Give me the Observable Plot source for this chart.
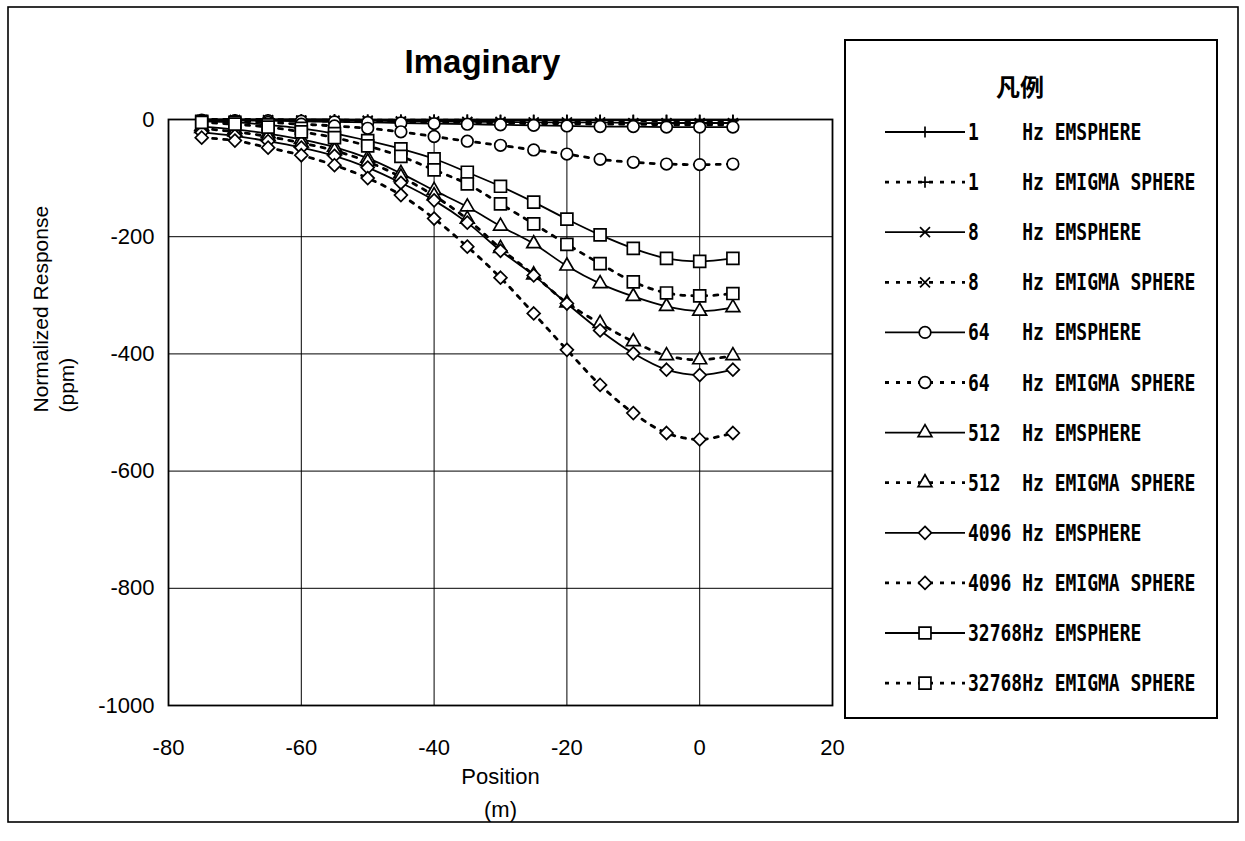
<!DOCTYPE html>
<html><head><meta charset="utf-8">
<script src="https://cdn.jsdelivr.net/npm/d3@7"></script>
<script src="https://cdn.jsdelivr.net/npm/@observablehq/plot@0.6"></script>
<style>
body{margin:0;background:#fff;overflow:hidden;}
#wrap{position:relative;width:1245px;height:841px;}
#wrap svg{position:absolute;left:0;top:0;}
</style></head><body><div id="wrap"></div>
<script>
// ---- data ----
const positions = [-75,-70,-65,-60,-55,-50,-45,-40,-35,-30,-25,-20,-15,-10,-5,0,5];
const xTicks = [-80,-60,-40,-20,0,20];
const yTicks = [-1000,-800,-600,-400,-200,0];
const frequencies = ["1","1","8","8","64","64","512","512","4096","4096","32768","32768"];
const models = ["EMSPHERE","EMIGMA SPHERE","EMSPHERE","EMIGMA SPHERE","EMSPHERE","EMIGMA SPHERE","EMSPHERE","EMIGMA SPHERE","EMSPHERE","EMIGMA SPHERE","EMSPHERE","EMIGMA SPHERE"];
const hz1Emsphere    = [0,0,0,0,0,-1,-1,-1,-1,-1,-1,-1,-1,-1,-1,-1,-1];
const hz1Emigma      = [0,0,0,-1,-1,-1,-1,-1,-1,-2,-2,-2,-2,-2,-2,-2,-2];
const hz8Emsphere    = [-1,-1,-1,-2,-2,-2,-3,-3,-4,-4,-5,-5,-5,-6,-6,-6,-6];
const hz8Emigma      = [-1,-1,-2,-2,-3,-3,-4,-5,-5,-6,-7,-7,-8,-8,-9,-9,-9];
const hz64Emsphere   = [-1,-2,-2,-3,-4,-5,-6,-7,-8,-9,-10,-11,-12,-12,-13,-13,-13];
const hz64Emigma     = [-2,-3,-5,-8,-11,-15,-21,-29,-37,-44,-52,-59,-68,-73,-76,-77,-76];
const hz512Emsphere  = [-12,-17,-24,-34,-47,-66,-92,-121,-149,-182,-212,-250,-280,-302,-319,-327,-321];
const hz512Emigma    = [-15,-21,-29,-40,-53,-72,-98,-130,-170,-220,-265,-313,-348,-379,-403,-410,-403];
const hz4096Emsphere = [-22,-28,-37,-48,-62,-82,-108,-138,-176,-224,-266,-314,-360,-399,-427,-436,-427];
const hz4096Emigma   = [-31,-36,-48,-61,-78,-100,-129,-169,-217,-270,-331,-393,-453,-501,-535,-546,-535];
const hz32768Emsphere= [-3,-5,-9,-15,-24,-36,-50,-67,-90,-114,-141,-170,-197,-220,-237,-242,-237];
const hz32768Emigma  = [-5,-8,-13,-21,-31,-45,-63,-86,-110,-144,-178,-213,-246,-277,-296,-301,-297];
const seriesValues = [hz1Emsphere,hz1Emigma,hz8Emsphere,hz8Emigma,hz64Emsphere,hz64Emigma,hz512Emsphere,hz512Emigma,hz4096Emsphere,hz4096Emigma,hz32768Emsphere,hz32768Emigma];

// ---- styles ----
const symbolNames = {"1":"plus","8":"times","64":"circle","512":"triangle2","4096":"diamond2","32768":"square2"};
const d3Symbols = {"plus":d3.symbolPlus,"times":d3.symbolTimes,"circle":d3.symbolCircle,"triangle2":d3.symbolTriangle2,"diamond2":d3.symbolDiamond2,"square2":d3.symbolSquare2};
const symbolR = {"plus":3.7,"times":4.6,"circle":5.8,"triangle2":6.6,"diamond2":5.8,"square2":7.6};

const series = frequencies.map((f,i)=>({
  freq:f, model:models[i], dashed: models[i] !== "EMSPHERE",
  symbol: symbolNames[f], rows: positions.map((x,j)=>({x, y: seriesValues[i][j]}))
}));

const marks = [
  Plot.ruleX(xTicks.filter(d=>d>-80 && d<20), {stroke:"#000", strokeWidth:1}),
  Plot.ruleY(yTicks.filter(d=>d>-1000 && d<0), {stroke:"#000", strokeWidth:1}),
  Plot.frame({stroke:"#000", strokeWidth:1.8})
];
for (const s of series) {
  marks.push(Plot.line(s.rows, {x:"x", y:"y", curve:"catmull-rom", stroke:"#000",
    strokeWidth: s.dashed ? 2.8 : 1.8, strokeDasharray: s.dashed ? "4,7" : null}));
}
for (const s of series) {
  marks.push(Plot.dot(s.rows, {x:"x", y:"y", symbol: s.symbol, r: symbolR[s.symbol],
    stroke:"#000", fill:"#fff", strokeWidth:1.7}));
}
marks.push(Plot.text(["Imaginary"], {frameAnchor:"top", lineAnchor:"middle", dy:-57, dx:-18, fontSize:33, fontWeight:"bold"}));
marks.push(Plot.text(["Position\n(m)"], {frameAnchor:"bottom", lineAnchor:"top", dy:55, lineHeight:1.5, fontSize:22}));
marks.push(Plot.text(["Normalized Response\n(ppm)"], {frameAnchor:"left", rotate:-90, lineAnchor:"top", dx:-139, lineHeight:1.25, fontSize:21}));

const chart = Plot.plot({
  width:1245, height:830,
  marginLeft:168, marginRight:413, marginTop:119, marginBottom:125,
  x:{domain:[-80,20], ticks:xTicks, tickSize:0, tickPadding:34, tickFormat:d=>String(d), label:null},
  y:{domain:[-1000,0], ticks:yTicks, tickSize:0, tickPadding:14, tickFormat:d=>String(d), label:null},
  style:{fontFamily:"'Liberation Sans', Arial, sans-serif", fontSize:"22px", color:"#000", background:"transparent", overflow:"visible"},
  marks
});
document.getElementById("wrap").appendChild(chart);

// ---- legend & outer frame overlay ----
const svg = d3.select("#wrap").append("svg").attr("width",1245).attr("height",841).style("pointer-events","none");
svg.append("rect").attr("x",8).attr("y",7).attr("width",1230).attr("height",815)
  .attr("fill","none").attr("stroke","#000").attr("stroke-width",1.6);
svg.append("rect").attr("x",845).attr("y",40).attr("width",372).attr("height",678)
  .attr("fill","none").attr("stroke","#000").attr("stroke-width",2);
svg.append("text").attr("x",1020).attr("y",96).attr("text-anchor","middle")
  .attr("font-family","'Noto Sans CJK JP', sans-serif").attr("font-weight","bold").attr("font-size",24).text("凡例");
series.forEach((s,i)=>{
  const y = 132 + i*50.1;
  svg.append("line").attr("x1",885).attr("x2",965).attr("y1",y).attr("y2",y)
    .attr("stroke","#000").attr("stroke-width", s.dashed?2.8:1.8)
    .attr("stroke-dasharray", s.dashed?"4,7":null);
  const r = symbolR[s.symbol];
  svg.append("path").attr("transform",`translate(925,${y})`)
    .attr("d", d3.symbol(d3Symbols[s.symbol], Math.PI*r*r)())
    .attr("fill","#fff").attr("stroke","#000").attr("stroke-width",1.7);
  const g = svg.append("g").attr("transform",`translate(968,${y+8}) scale(1,1.3)`)
    .attr("font-family","'DejaVu Sans Mono', monospace").attr("font-size",18).attr("font-weight","bold");
  g.append("text").attr("x",0).attr("y",0).text(s.freq);
  g.append("text").attr("x",5*10.84).attr("y",0).text("Hz " + s.model);
});
</script></body></html>
